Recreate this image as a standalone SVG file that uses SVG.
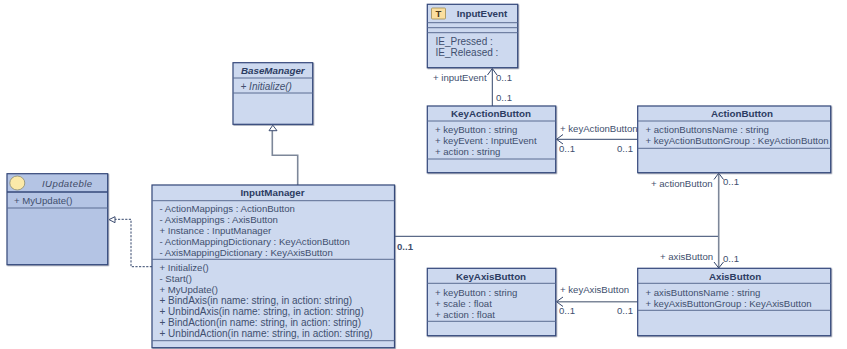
<svg xmlns="http://www.w3.org/2000/svg" width="847" height="349" viewBox="0 0 847 349">
<defs>
<style>
text{font-family:"Liberation Sans",Arial,sans-serif;font-size:9.6px;fill:#414f6e}
.t{font-weight:bold;fill:#2c3c62;text-anchor:middle;font-size:9.8px}
.i{font-style:italic}
.m{fill:#3f4a66}
.w{font-size:10px}
.box{fill:#cdd9ef;stroke:#34487a;stroke-width:1.2}
.dk{fill:#b4c4e4}
.d{stroke:#5a6c92;stroke-width:1;fill:none}
.c{fill:none;stroke:#33456b;stroke-width:1}
.g{fill:none;stroke:#7d8799;stroke-width:1.6}
.o{fill:none;stroke:#3c4c70;stroke-width:1}
</style>
<filter id="s" x="-5%" y="-5%" width="110%" height="110%"><feDropShadow dx="0.8" dy="0.8" stdDeviation="0.5" flood-color="#55607a" flood-opacity="0.6"/></filter>
</defs>
<rect width="847" height="349" fill="#ffffff"/>
<g id="connectors">
<path class="g" d="M272.3 130.7V155.3H297.7V185"/>
<path class="o" d="M272.8 125.2L269 130.7H277Z"/>
<path class="c" stroke-dasharray="2.2 1.4" d="M152 266.7H131V219.3H115"/>
<path class="o" d="M109 219.6L115 216.7V222.7Z"/>
<path class="c" d="M492.3 106V68.5"/>
<path class="c" d="M487.5 75L492.3 68.5L497 75"/>
<path class="c" d="M637.7 139.3H556.5"/>
<path class="c" d="M563 134.5L556.5 139.3L563 144"/>
<path class="c" d="M394.5 236.3H718.7"/>
<path class="g" d="M718.7 174V267.5"/>
<path class="c" d="M714 179.5L718.7 173.2L723.5 179.5"/>
<path class="c" d="M714 262L718.7 268L723.5 262"/>
<path class="g" d="M637.7 301.7H557"/>
<path class="c" d="M563 297L556.5 301.7L563 306.5"/>
</g>
<text x="433" y="80.5">+ inputEvent</text>
<text x="496" y="80.5">0..1</text>
<text x="496" y="100.5">0..1</text>
<text x="560" y="132">+ keyActionButton</text>
<text x="559" y="152">0..1</text>
<text x="617" y="152">0..1</text>
<text x="651" y="186.5">+ actionButton</text>
<text x="723" y="185">0..1</text>
<text x="397" y="249.5" style="font-weight:bold">0..1</text>
<text x="660" y="260">+ axisButton</text>
<text x="723" y="262">0..1</text>
<text x="560" y="293">+ keyAxisButton</text>
<text x="559" y="314">0..1</text>
<text x="617" y="314">0..1</text>

<g id="IUpdateble">
<rect class="box dk" x="7" y="173.7" width="100.7" height="91" filter="url(#s)"/>
<path class="d" d="M7 192H107.7" style="stroke:#34487a;stroke-width:1.4"/><path class="d" d="M7 208H107.7"/>
<ellipse cx="17.3" cy="183" rx="7.5" ry="7" fill="#fbe9a9" stroke="#8c8c70" stroke-width="0.8"/>
<text class="i m" x="42" y="186.5" textLength="50">IUpdateble</text>
<text x="14" y="204">+ MyUpdate()</text>
</g>
<g id="InputManager">
<rect class="box" x="152" y="185" width="242.5" height="162.7" filter="url(#s)"/>
<path class="d" d="M152 200.7H394.5M152 259.3H394.5M152 340.7H394.5"/>
<text class="t" x="272.5" y="196">InputManager</text>
<text x="159.5" y="211.7">- ActionMappings : ActionButton</text>
<text x="159.5" y="222.7">- AxisMappings : AxisButton</text>
<text x="159.5" y="233.7">+ Instance : InputManager</text>
<text x="159.5" y="244.7">- ActionMappingDictionary : KeyActionButton</text>
<text x="159.5" y="255.7">- AxisMappingDictionary : KeyAxisButton</text>
<text x="159.5" y="271">+ Initialize()</text>
<text x="159.5" y="282">- Start()</text>
<text x="159.5" y="293">+ MyUpdate()</text>
<text class="w" x="159.5" y="304">+ BindAxis(in name: string, in action: string)</text>
<text class="w" x="159.5" y="315">+ UnbindAxis(in name: string, in action: string)</text>
<text class="w" x="159.5" y="326">+ BindAction(in name: string, in action: string)</text>
<text class="w" x="159.5" y="337">+ UnbindAction(in name: string, in action: string)</text>
</g>
<g id="BaseManager">
<rect class="box" x="233" y="62.7" width="79.7" height="61.6" filter="url(#s)"/>
<path class="d" d="M233 78H312.7M233 93H312.7"/>
<text class="t i" x="272.8" y="73.5">BaseManager</text>
<text class="i w" x="240.5" y="90">+ Initialize()</text>
</g>
<g id="InputEvent">
<rect class="box" x="427.3" y="4.3" width="90.4" height="63.4" filter="url(#s)"/>
<path class="d" d="M427.3 22.7H517.7M427.3 27.7H517.7M427.3 32.7H517.7"/>
<rect x="431.5" y="8" width="14" height="11" rx="1" fill="#fbdf9f" stroke="#a08c50" stroke-width="0.8"/>
<text x="438.5" y="17" style="font-weight:bold;text-anchor:middle;fill:#4a3a1a">T</text>
<text class="t" x="482" y="17">InputEvent</text>
<text class="w" x="435.5" y="45">IE_Pressed :</text>
<text class="w" x="435.5" y="56">IE_Released :</text>
</g>
<g id="KeyActionButton">
<rect class="box" x="427.3" y="106" width="128.4" height="66.7" filter="url(#s)"/>
<path class="d" d="M427.3 121H555.7M427.3 159H555.7"/>
<text class="t" x="491" y="117">KeyActionButton</text>
<text x="435" y="133">+ keyButton : string</text>
<text x="435" y="144">+ keyEvent : InputEvent</text>
<text x="435" y="155">+ action : string</text>
</g>
<g id="ActionButton">
<rect class="box" x="637.7" y="106" width="193" height="66.7" filter="url(#s)"/>
<path class="d" d="M637.7 121H830.7M637.7 148.3H830.7"/>
<text class="t" x="742" y="117">ActionButton</text>
<text x="645.5" y="133">+ actionButtonsName : string</text>
<text x="645.5" y="144">+ keyActionButtonGroup : KeyActionButton</text>
</g>
<g id="KeyAxisButton">
<rect class="box" x="427.3" y="268.3" width="128.4" height="67.4" filter="url(#s)"/>
<path class="d" d="M427.3 283.3H555.7M427.3 321.3H555.7"/>
<text class="t" x="491" y="279.5">KeyAxisButton</text>
<text x="435" y="295.5">+ keyButton : string</text>
<text x="435" y="306.5">+ scale : float</text>
<text x="435" y="317.5">+ action : float</text>
</g>
<g id="AxisButton">
<rect class="box" x="637.7" y="268.3" width="193" height="67.4" filter="url(#s)"/>
<path class="d" d="M637.7 283.3H830.7M637.7 310.3H830.7"/>
<text class="t" x="735" y="279.5">AxisButton</text>
<text x="645.5" y="295.5">+ axisButtonsName : string</text>
<text x="645.5" y="306.5">+ keyAxisButtonGroup : KeyAxisButton</text>
</g>
</svg>
